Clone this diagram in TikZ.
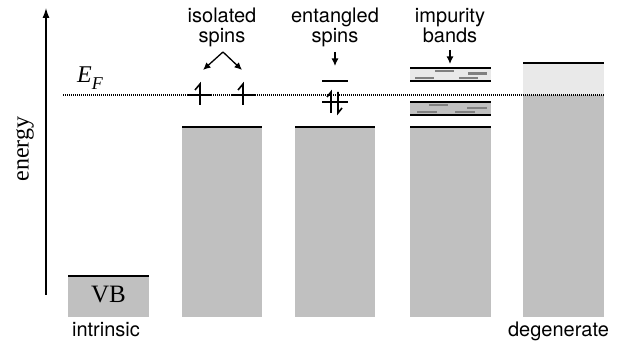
\documentclass[tikz,border=0pt]{standalone}
\usepackage{fontspec}
\setmainfont{Liberation Serif}
\newfontfamily\lblfont{TeX Gyre Heros}
\usetikzlibrary{arrows.meta}
\definecolor{bandgray}{RGB}{192,192,192}
\definecolor{lightband}{RGB}{233,233,233}
\definecolor{dashgray}{RGB}{128,128,128}
\begin{document}
\begin{tikzpicture}[x=1pt,y=-1pt,
  lbl/.style={font=\lblfont\fontsize{20}{20}\selectfont, inner sep=0pt, align=center},
  serif/.style={font=\fontsize{24}{24}\selectfont, inner sep=0pt},
  level/.style={line width=2pt},
  ptr/.style={line width=1.3pt,-{Latex[length=7.5pt,width=7pt]}},
  harp/.style={line width=1.6pt},
  impdash/.style={dashgray,line width=2.2pt},
  fermi/.style={line width=1.4pt, dash pattern=on 1pt off 1pt},
]
\useasboundingbox (0,0) rectangle (634,344);

% axis
\coordinate (axbot) at (46,295);
\coordinate (axtop) at (46,8);
\draw[line width=1.3pt,-{Latex[length=10pt,width=7pt]}] (axbot) -- (axtop);
\node[serif, rotate=90] (en) at (25,149) {energy};

% bands
\fill[bandgray] (68,276) rectangle (149,317.5);
\fill[bandgray] (182,127) rectangle (262,317.5);
\fill[bandgray] (295,127) rectangle (375,317.5);
\fill[bandgray] (410,127) rectangle (491,317.5);
\fill[lightband] (523,63) rectangle (604,95);
\fill[bandgray] (523,95) rectangle (604,317.5);
\draw[level] (68,276) -- (149,276);
\draw[level] (182,127) -- (262,127);
\draw[level] (295,127) -- (375,127);
\draw[level] (410,127) -- (491,127);
\draw[level] (523,63) -- (604,63);

% impurity bands
\fill[lightband] (410,68) rectangle (491,81);
\fill[bandgray] (410,102) rectangle (491,115);
\draw[level] (410,68) -- (491,68);
\draw[level] (410,81) -- (491,81);
\draw[level] (410,102) -- (491,102);
\draw[level] (410,115) -- (491,115);
\draw[impdash] (435,71) -- (454,71);
\draw[impdash] (468,73.5) -- (487,73.5);
\draw[impdash] (415,78) -- (434,78);
\draw[impdash] (459,78) -- (478,78);
\draw[impdash] (429,105) -- (448,105);
\draw[impdash] (467,108) -- (487,108);
\draw[impdash] (417,112) -- (437,112);
\draw[impdash] (455,112) -- (475,112);

% Fermi level
\draw[fermi] (63,95) -- (604,95);
\node[serif, anchor=base west] (ef) at (77,83) {\itshape E\raisebox{-7pt}{\fontsize{18}{18}\selectfont F}};

% isolated spins
\draw[level] (188,95) -- (212,95);
\draw[harp] (200,105) -- (200,84) -- (195,90);
\draw[level] (231,95) -- (255,95);
\draw[harp] (243,105) -- (243,84) -- (238,90);

% entangled spins
\draw[level] (322,81) -- (348,81);
\draw[level] (322,102) -- (348,102);
\draw[harp] (331,113) -- (331,92) -- (327,97);
\draw[harp] (338,92) -- (338,113) -- (342,108);

% labels
\node[lbl, anchor=north] (iso) at (222,8) {isolated\\spins};
\node[lbl, anchor=north] (ent) at (335,8) {entangled\\spins};
\node[lbl, anchor=north] (imp) at (450,8) {impurity\\bands};
\coordinate (isofrom) at (223,52);
\coordinate (spinA) at (203,70);
\coordinate (spinB) at (242,70);
\draw[ptr] (isofrom) -- (spinA);
\draw[ptr] (isofrom) -- (spinB);
\coordinate (entfrom) at (335,52);
\coordinate (entto) at (335,66);
\draw[ptr] (entfrom) -- (entto);
\coordinate (impfrom) at (450,50);
\coordinate (impto) at (450,64);
\draw[ptr] (impfrom) -- (impto);

\node[serif, anchor=base, font=\fontsize{25}{25}\selectfont] (vb) at (108.5,303) {VB};
\node[lbl, anchor=base] (intr) at (106,336) {intrinsic};
\node[lbl, anchor=base] (deg) at (558.5,336) {degenerate};
\end{tikzpicture}
\end{document}
